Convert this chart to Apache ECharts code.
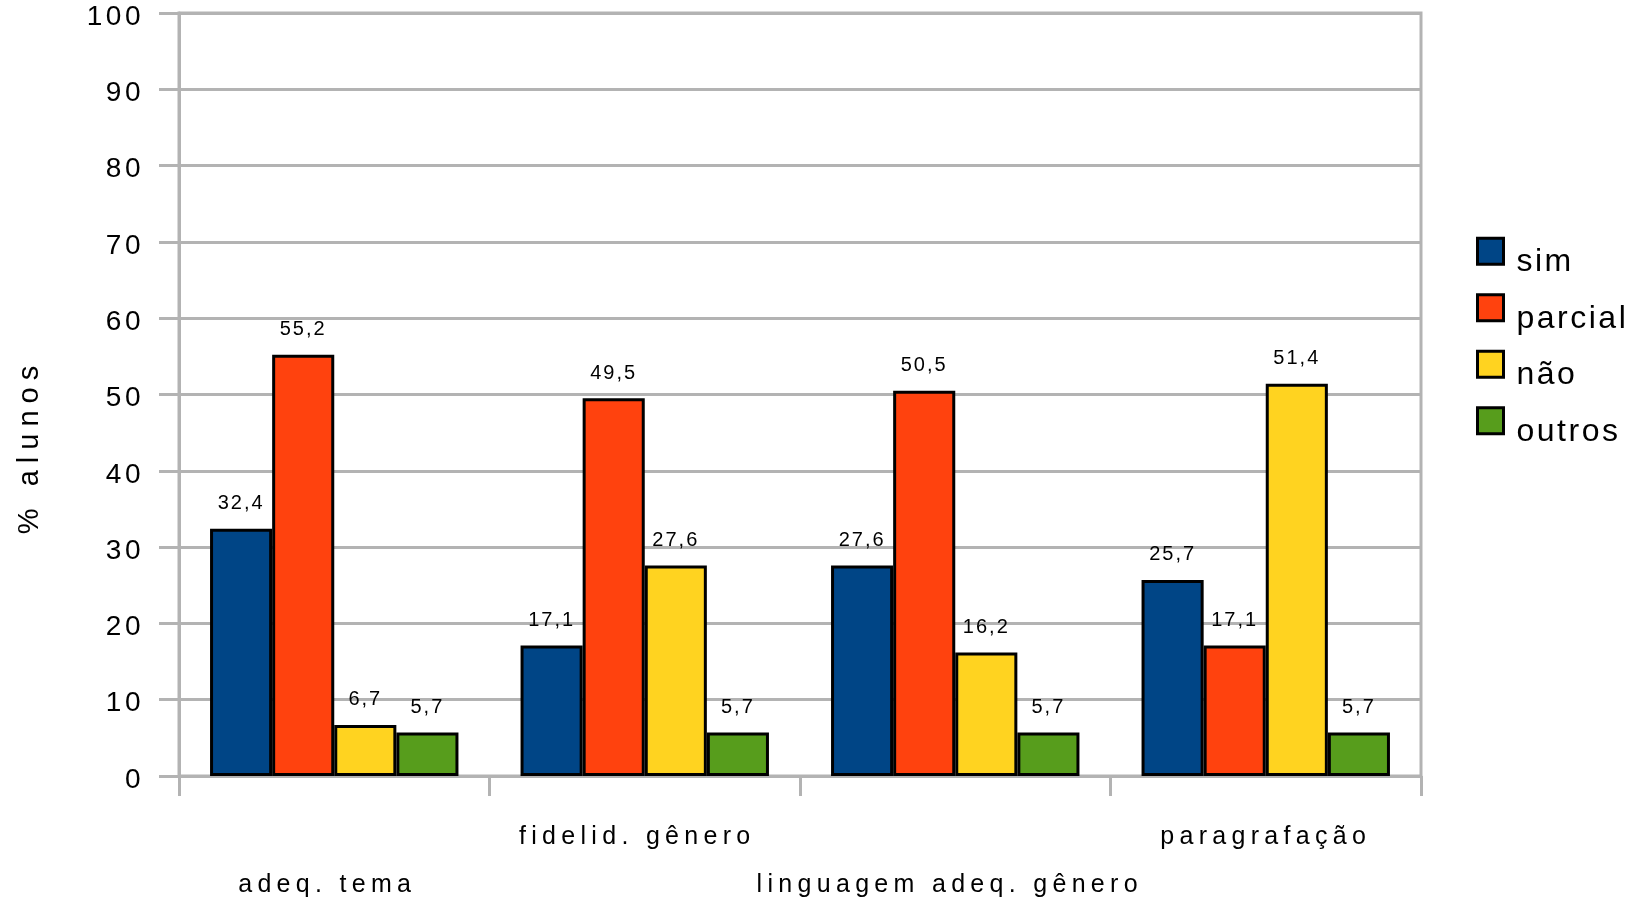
<!DOCTYPE html>
<html>
<head>
<meta charset="utf-8">
<script src="https://cdn.jsdelivr.net/npm/echarts@6/dist/echarts.min.js"></script>
<style>
html,body{margin:0;padding:0;background:#fff;}
#chart{width:1642px;height:902px;}
</style>
</head>
<body>
<div id="chart"></div>
<script>
const categories = ['adeq. tema', 'fidelid. gênero', 'linguagem adeq. gênero', 'paragrafação'];
const seriesNames = ['sim', 'parcial', 'não', 'outros'];
const simValues = [32.4, 17.1, 27.6, 25.7];
const parcialValues = [55.2, 49.5, 50.5, 17.1];
const naoValues = [6.7, 27.6, 16.2, 51.4];
const outrosValues = [5.7, 5.7, 5.7, 5.7];
const yTicks = [0, 10, 20, 30, 40, 50, 60, 70, 80, 90, 100];
const colors = ['#004586', '#ff420e', '#ffd320', '#579d1c'];

// letter spacing per font size (the reference uses widely spaced text)
const LS = {28: 3.5, 29: 7, 25: 5.3, 32: 2.5, 20: 2};
(function () {
  const P = CanvasRenderingContext2D.prototype;
  const oF = P.fillText, oM = P.measureText;
  function apply(ctx) {
    const m = /(\d+(?:\.\d+)?)px/.exec(ctx.font || '');
    const s = m ? (LS[Math.round(+m[1])] || 0) : 0;
    try { ctx.letterSpacing = s + 'px'; } catch (e) {}
  }
  P.fillText = function () { apply(this); return oF.apply(this, arguments); };
  P.measureText = function () { apply(this); return oM.apply(this, arguments); };
})();

const FONT = 'Liberation Sans';
const GRAY = '#b3b3b3';
const valuesList = [simValues, parcialValues, naoValues, outrosValues];

// small per-label horizontal nudges (right padding shifts a centred label left)
const xRich = {};
[14, 15, 11, 0].forEach((p, i) => {
  xRich['c' + i] = {fontSize: 25, lineHeight: 48, color: '#000', fontFamily: FONT, padding: [0, p, 0, 0]};
});

const chart = echarts.init(document.getElementById('chart'), null, {renderer: 'canvas'});
chart.setOption({
  animation: false,
  textStyle: {fontFamily: FONT},
  grid: {
    left: 179, right: 221, top: 13, bottom: 126, show: true, borderColor: GRAY, borderWidth: 3,
    containLabel: false, outerBoundsMode: 'none'
  },
  legend: {
    orient: 'vertical', left: 1476, top: 223, padding: 0, itemGap: 0,
    itemWidth: 26, itemHeight: 26, icon: 'rect',
    data: seriesNames,
    itemStyle: {borderColor: '#000', borderWidth: 3},
    formatter: name => '{t|' + name + '}',
    textStyle: {
      fontSize: 32, color: '#000', fontFamily: FONT,
      rich: {t: {fontSize: 32, color: '#000', fontFamily: FONT, lineHeight: 32, padding: [22, 0, 0, 8]}}
    }
  },
  xAxis: {
    type: 'category', data: categories,
    axisLine: {lineStyle: {color: GRAY, width: 3}},
    axisTick: {show: true, length: 20, lineStyle: {color: GRAY, width: 3}},
    axisLabel: {
      interval: 0, margin: 37, fontSize: 25, lineHeight: 48, color: '#000', fontFamily: FONT,
      formatter: (v, i) => (i % 2 === 0 ? '\n' : '') + '{c' + i + '|' + v + '}',
      rich: xRich
    },
    splitLine: {show: false}
  },
  yAxis: {
    type: 'value', min: yTicks[0], max: yTicks[yTicks.length - 1], interval: 10,
    name: '% alunos', nameLocation: 'middle', nameGap: 131, nameRotate: 90,
    nameTextStyle: {fontSize: 29, color: '#000', fontFamily: FONT, padding: [0, 104, 0, 0]},
    axisLine: {show: true, lineStyle: {color: GRAY, width: 3}},
    axisTick: {show: true, length: 20, lineStyle: {color: GRAY, width: 3}},
    axisLabel: {
      margin: 35, fontSize: 28, color: '#000', fontFamily: FONT,
      formatter: v => '{v|' + v + '}',
      rich: {v: {fontSize: 28, color: '#000', fontFamily: FONT, padding: [8, 0, 0, 0]}}
    },
    splitLine: {show: true, lineStyle: {color: GRAY, width: 3}}
  },
  series: seriesNames.map((name, k) => ({
    name: name, type: 'bar', data: valuesList[k],
    barGap: '0%', barCategoryGap: '20%',
    itemStyle: {color: colors[k], borderColor: '#000', borderWidth: 3},
    label: {
      show: true, position: 'top', distance: 14, fontSize: 20, color: '#000', fontFamily: FONT,
      formatter: p => String(p.value).replace('.', ',')
    }
  }))
});
</script>
</body>
</html>
